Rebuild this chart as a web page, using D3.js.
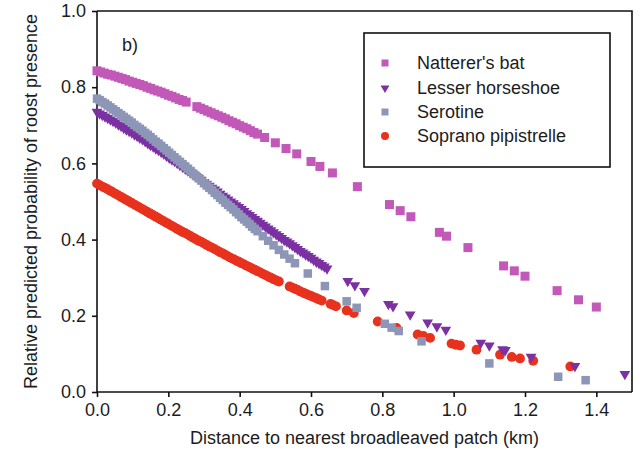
<!DOCTYPE html>
<html>
<head>
<meta charset="utf-8">
<script src="https://cdn.jsdelivr.net/npm/d3@7"></script>
<style>
  html, body { margin: 0; padding: 0; background: #fff; }
  svg { display: block; font-family: "Liberation Sans", Arial, sans-serif; }
</style>
</head>
<body>
<svg id="chart" width="640" height="463"></svg>
<script>
// ---- Data ----
const xTicks = [0.0, 0.2, 0.4, 0.6, 0.8, 1.0, 1.2, 1.4];
const yTicks = [0.0, 0.2, 0.4, 0.6, 0.8, 1.0];
const seriesNames = ["Natterer's bat", "Lesser horseshoe", "Serotine", "Soprano pipistrelle"];

const nattererX = [0.00,0.01,0.02,0.03,0.04,0.05,0.06,0.07,0.08,0.09,0.10,0.11,0.12,0.13,0.14,0.15,0.16,0.17,0.18,0.19,0.20,0.21,0.22,0.23,0.24,0.25,
  0.28,0.29,0.30,0.31,0.32,0.33,0.34,0.35,0.36,0.37,0.38,0.39,0.40,0.41,0.42,0.43,0.44,0.45,
  0.47,0.50,0.53,0.56,0.60,0.625,0.66,0.73,0.82,0.85,0.88,0.96,0.98,1.04,1.14,1.17,1.20,1.29,1.35,1.40];
const nattererY = [0.843,0.840,0.837,0.834,0.832,0.829,0.826,0.823,0.820,0.816,0.813,0.810,0.807,0.804,0.800,0.797,0.793,0.790,0.787,0.783,0.779,0.776,0.772,0.768,0.765,0.761,
  0.749,0.745,0.741,0.737,0.733,0.729,0.725,0.721,0.717,0.712,0.708,0.704,0.699,0.695,0.691,0.686,0.681,0.677,
  0.668,0.654,0.639,0.625,0.605,0.592,0.575,0.539,0.492,0.476,0.460,0.419,0.409,0.379,0.331,0.318,0.304,0.266,0.242,0.223];

const horseshoeX = [0,0.0075,0.015,0.0225,0.03,0.0375,0.045,0.0525,0.06,0.0675,0.075,0.0825,0.09,0.0975,0.105,0.1125,0.12,0.1275,0.135,0.1425,
  0.15,0.1575,0.165,0.1725,0.18,0.1875,0.195,0.2025,0.21,0.2175,0.225,0.2325,0.24,0.2475,0.255,0.2625,0.27,0.2775,0.285,0.2925,
  0.3,0.3075,0.315,0.3225,0.33,0.3375,0.345,0.3525,0.36,0.3675,0.375,0.3825,0.39,0.3975,0.405,0.4125,0.42,0.4275,0.435,0.4425,
  0.45,0.4575,0.465,0.4725,0.48,0.4875,0.495,0.5025,0.51,0.5175,0.525,0.5325,0.54,0.5475,0.555,0.5625,0.57,0.5775,0.585,0.5925,
  0.6,0.6075,0.615,0.6225,0.63,0.6375,0.645,
  0.703,0.723,0.750,0.817,0.830,0.878,0.927,0.953,0.978,1.076,1.100,1.137,1.145,1.217,1.340,1.480];
const horseshoeY = [0.735,0.731,0.727,0.723,0.719,0.715,0.711,0.707,0.702,0.698,0.693,0.689,0.685,0.681,0.676,0.672,0.667,0.663,0.658,0.653,
  0.648,0.644,0.639,0.635,0.630,0.625,0.620,0.615,0.610,0.606,0.601,0.596,0.591,0.586,0.581,0.576,0.571,0.566,0.561,0.556,
  0.551,0.546,0.541,0.536,0.531,0.526,0.520,0.515,0.510,0.505,0.500,0.495,0.490,0.485,0.480,0.475,0.469,0.464,0.459,0.454,
  0.449,0.444,0.439,0.434,0.429,0.424,0.419,0.414,0.409,0.404,0.399,0.395,0.390,0.385,0.380,0.375,0.370,0.366,0.361,0.357,
  0.352,0.347,0.342,0.338,0.333,0.329,0.324,
  0.291,0.280,0.265,0.231,0.225,0.203,0.182,0.172,0.163,0.129,0.122,0.112,0.110,0.092,0.068,0.047];

const serotineX = [0,0.0075,0.015,0.0225,0.03,0.0375,0.045,0.0525,0.06,0.0675,0.075,0.0825,0.09,0.0975,0.105,0.1125,0.12,0.1275,0.135,0.1425,
  0.15,0.1575,0.165,0.1725,0.18,0.1875,0.195,0.2025,0.21,0.2175,0.225,0.2325,0.24,0.2475,0.255,0.2625,0.27,0.2775,0.285,0.2925,
  0.3,0.3075,0.315,0.3225,0.33,0.3375,0.345,0.3525,0.36,0.3675,0.375,0.3825,0.39,0.3975,0.405,0.4125,0.42,0.4275,0.435,0.4425,0.45,
  0.465,0.480,0.495,0.510,0.525,0.540,0.555,
  0.591,0.639,0.700,0.728,0.807,0.826,0.846,0.910,1.100,1.293,1.370];
const serotineY = [0.770,0.766,0.761,0.757,0.752,0.747,0.742,0.737,0.732,0.727,0.722,0.717,0.712,0.707,0.701,0.696,0.691,0.686,0.680,0.675,
  0.669,0.663,0.657,0.652,0.646,0.640,0.634,0.628,0.622,0.616,0.610,0.604,0.598,0.592,0.586,0.580,0.573,0.567,0.561,0.555,
  0.548,0.542,0.536,0.530,0.523,0.517,0.510,0.504,0.497,0.491,0.485,0.479,0.472,0.466,0.459,0.453,0.447,0.441,0.434,0.428,0.422,
  0.409,0.397,0.385,0.373,0.361,0.350,0.338,
  0.311,0.278,0.238,0.221,0.179,0.169,0.160,0.133,0.075,0.040,0.031];

const sopranoX = [0,0.0075,0.015,0.0225,0.03,0.0375,0.045,0.0525,0.06,0.0675,0.075,0.0825,0.09,0.0975,0.105,0.1125,0.12,0.1275,0.135,0.1425,
  0.15,0.1575,0.165,0.1725,0.18,0.1875,0.195,0.2025,0.21,0.2175,0.225,0.2325,0.24,0.2475,0.255,0.2625,0.27,0.2775,0.285,0.2925,
  0.3,0.3075,0.315,0.3225,0.33,0.3375,0.345,0.3525,0.36,0.3675,0.375,0.3825,0.39,0.3975,0.405,0.4125,0.42,0.4275,0.435,0.4425,
  0.45,0.4575,0.465,0.4725,0.48,0.4875,0.495,0.5025,0.51,
  0.54,0.5475,0.555,0.5625,0.57,0.5775,0.585,0.5925,0.6,0.6075,0.615,0.6225,0.63,
  0.655,0.6625,0.67,0.700,0.720,
  0.787,0.840,0.899,0.915,0.934,0.994,1.006,1.018,1.064,1.130,1.163,1.186,1.223,1.327];
const sopranoY = [0.547,0.543,0.539,0.536,0.532,0.528,0.524,0.520,0.516,0.512,0.508,0.504,0.500,0.496,0.492,0.488,0.484,0.480,0.476,0.472,
  0.468,0.464,0.460,0.456,0.452,0.448,0.444,0.440,0.436,0.432,0.428,0.424,0.420,0.417,0.413,0.409,0.405,0.401,0.397,0.394,
  0.390,0.386,0.382,0.379,0.375,0.371,0.367,0.364,0.360,0.356,0.352,0.349,0.345,0.342,0.338,0.335,0.331,0.328,0.324,0.321,
  0.317,0.314,0.310,0.307,0.303,0.300,0.296,0.293,0.290,
  0.277,0.274,0.271,0.268,0.264,0.261,0.258,0.255,0.252,0.249,0.246,0.243,0.240,
  0.231,0.228,0.225,0.214,0.207,
  0.185,0.168,0.151,0.147,0.142,0.127,0.124,0.122,0.111,0.098,0.092,0.088,0.082,0.067];

const colors = { natterer: "#c258b7", horseshoe: "#7b31a2", serotine: "#8d96b6", soprano: "#e8321e" };

// ---- Layout ----
const svg = d3.select("#chart");
const W = 640, H = 463;
const margin = { left: 97, top: 11, right: 8, bottom: 71 };
const x = d3.scaleLinear().domain([0, 1.5]).range([margin.left, W - margin.right]);
const y = d3.scaleLinear().domain([0, 1]).range([H - margin.bottom, margin.top]);
const textColor = "#1c1c1c";

// frame (top and right)
svg.append("path")
  .attr("d", `M${x(0)},${y(1)}H${x(1.5)}V${y(0)}`)
  .attr("fill", "none").attr("stroke", "#111").attr("stroke-width", 1.6);

// axes
const xAxis = d3.axisBottom(x).tickValues(xTicks).tickFormat(d3.format(".1f")).tickSize(5).tickSizeOuter(0).tickPadding(6);
const yAxis = d3.axisLeft(y).tickValues(yTicks).tickFormat(d3.format(".1f")).tickSize(5).tickSizeOuter(0).tickPadding(6);

const gx = svg.append("g").attr("transform", `translate(0,${y(0)})`).call(xAxis);
const gy = svg.append("g").attr("transform", `translate(${x(0)},0)`).call(yAxis);
[gx, gy].forEach(g => {
  g.select(".domain").attr("stroke", "#111").attr("stroke-width", 1.6);
  g.selectAll(".tick line").attr("stroke", "#111").attr("stroke-width", 1.6);
  g.selectAll(".tick text").attr("fill", textColor).style("font-size", "18px")
    .style("font-family", '"Liberation Sans", Arial, sans-serif');
});
gx.select(".domain").attr("d", `M${x(0)},0H${x(1.5)}`);
gy.select(".domain").attr("d", `M0,${y(0)}V${y(1)}`);

// axis titles
svg.append("text")
  .attr("x", (x(0) + x(1.5)) / 2).attr("y", 444)
  .attr("text-anchor", "middle").attr("fill", textColor).style("font-size", "18px")
  .text("Distance to nearest broadleaved patch (km)");
svg.append("text")
  .attr("transform", `translate(37,${(y(0) + y(1)) / 2}) rotate(-90)`)
  .attr("text-anchor", "middle").attr("fill", textColor).style("font-size", "18px")
  .text("Relative predicted probability of roost presence");

// panel label
svg.append("text").attr("x", 122).attr("y", 51).attr("fill", textColor).style("font-size", "18px").text("b)");

// ---- Marks ----
const zip = (xs, ys) => xs.map((v, i) => ({ x: v, y: ys[i] }));
const plot = svg.append("g");

// Soprano pipistrelle (circles) - bottom
plot.append("g").selectAll("circle").data(zip(sopranoX, sopranoY)).join("circle")
  .attr("cx", d => x(d.x)).attr("cy", d => y(d.y)).attr("r", 4.9).attr("fill", colors.soprano);

// Lesser horseshoe (down triangles)
const tri = d3.symbol().type(d3.symbolTriangle).size(50);
plot.append("g").selectAll("path").data(zip(horseshoeX, horseshoeY)).join("path")
  .attr("d", tri).attr("transform", d => `translate(${x(d.x)},${y(d.y)}) rotate(180)`)
  .attr("fill", colors.horseshoe);

// Serotine (squares)
const sq2 = 8.5;
plot.append("g").selectAll("rect").data(zip(serotineX, serotineY)).join("rect")
  .attr("x", d => x(d.x) - sq2 / 2).attr("y", d => y(d.y) - sq2 / 2)
  .attr("width", sq2).attr("height", sq2).attr("fill", colors.serotine);

// Natterer's bat (squares)
const sq1 = 9;
plot.append("g").selectAll("rect").data(zip(nattererX, nattererY)).join("rect")
  .attr("x", d => x(d.x) - sq1 / 2).attr("y", d => y(d.y) - sq1 / 2)
  .attr("width", sq1).attr("height", sq1).attr("fill", colors.natterer);

// ---- Legend ----
const lg = svg.append("g");
lg.append("rect").attr("x", 364).attr("y", 33).attr("width", 246).attr("height", 134)
  .attr("fill", "#fff").attr("stroke", "#111").attr("stroke-width", 1.6);
const legendRows = [
  { name: seriesNames[0], color: colors.natterer, shape: "square" },
  { name: seriesNames[1], color: colors.horseshoe, shape: "triangle" },
  { name: seriesNames[2], color: colors.serotine, shape: "square" },
  { name: seriesNames[3], color: colors.soprano, shape: "circle" }
];
const rowY = [63, 88, 112, 136];
legendRows.forEach((r, i) => {
  const cy = rowY[i], cx = 385;
  if (r.shape === "square") {
    lg.append("rect").attr("x", cx - 3.5).attr("y", cy - 3.5).attr("width", 7).attr("height", 7).attr("fill", r.color);
  } else if (r.shape === "triangle") {
    lg.append("path").attr("d", d3.symbol().type(d3.symbolTriangle).size(34))
      .attr("transform", `translate(${cx},${cy}) rotate(180)`).attr("fill", r.color);
  } else {
    lg.append("circle").attr("cx", cx).attr("cy", cy).attr("r", 4).attr("fill", r.color);
  }
  lg.append("text").attr("x", 417).attr("y", cy).attr("dy", "0.35em")
    .attr("fill", textColor).style("font-size", "18px").text(r.name);
});
</script>
</body>
</html>
